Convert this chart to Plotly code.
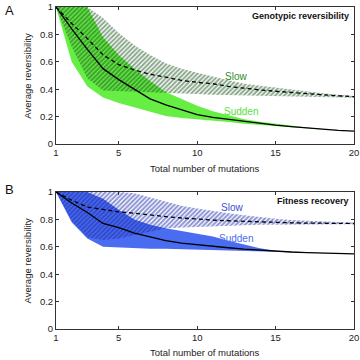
import plotly.graph_objects as go

x = list(range(1, 21))

# Panel A: Genotypic reversibility
a_sudden_mean = [1.0, 0.84, 0.69, 0.55, 0.47, 0.40, 0.33, 0.285, 0.25, 0.215, 0.195, 0.18, 0.163, 0.15, 0.138, 0.127, 0.117, 0.108, 0.10, 0.094]
a_sudden_up   = [1.0, 1.0, 1.0, 0.78, 0.65, 0.55, 0.46, 0.38, 0.33, 0.28, 0.24, 0.21, 0.18, 0.163, 0.148, 0.132, 0.12, 0.11, 0.10, 0.094]
a_sudden_lo   = [1.0, 0.60, 0.42, 0.34, 0.30, 0.265, 0.235, 0.205, 0.19, 0.178, 0.17, 0.16, 0.148, 0.138, 0.13, 0.122, 0.114, 0.106, 0.10, 0.094]
a_slow_mean   = [1.0, 0.88, 0.77, 0.65, 0.58, 0.54, 0.51, 0.485, 0.465, 0.45, 0.44, 0.42, 0.405, 0.395, 0.385, 0.375, 0.368, 0.36, 0.352, 0.345]
a_slow_up     = [1.0, 1.0, 1.0, 0.92, 0.81, 0.72, 0.65, 0.59, 0.55, 0.52, 0.49, 0.465, 0.44, 0.425, 0.41, 0.395, 0.385, 0.37, 0.36, 0.35]
a_slow_lo     = [1.0, 0.71, 0.48, 0.39, 0.385, 0.38, 0.38, 0.375, 0.37, 0.365, 0.36, 0.357, 0.355, 0.352, 0.35, 0.347, 0.345, 0.342, 0.34, 0.338]

# Panel B: Fitness recovery
b_sudden_mean = [1.0, 0.92, 0.85, 0.77, 0.74, 0.70, 0.672, 0.645, 0.627, 0.614, 0.603, 0.593, 0.583, 0.575, 0.567, 0.562, 0.558, 0.555, 0.552, 0.549]
b_sudden_up   = [1.0, 1.0, 1.0, 0.95, 0.87, 0.80, 0.76, 0.735, 0.715, 0.695, 0.675, 0.645, 0.615, 0.59, 0.572, 0.563, 0.558, 0.555, 0.552, 0.549]
b_sudden_lo   = [1.0, 0.78, 0.66, 0.60, 0.595, 0.59, 0.585, 0.585, 0.585, 0.58, 0.578, 0.575, 0.57, 0.567, 0.563, 0.56, 0.557, 0.554, 0.551, 0.548]
b_slow_mean   = [1.0, 0.94, 0.89, 0.87, 0.855, 0.845, 0.83, 0.82, 0.81, 0.80, 0.795, 0.79, 0.785, 0.78, 0.778, 0.775, 0.773, 0.771, 0.77, 0.77]
b_slow_up     = [1.0, 1.0, 1.0, 1.0, 1.0, 0.99, 0.96, 0.93, 0.90, 0.88, 0.86, 0.845, 0.83, 0.815, 0.805, 0.795, 0.79, 0.785, 0.78, 0.775]
b_slow_lo     = [1.0, 0.79, 0.67, 0.65, 0.66, 0.685, 0.71, 0.735, 0.74, 0.745, 0.75, 0.755, 0.758, 0.76, 0.762, 0.763, 0.764, 0.765, 0.765, 0.765]

xticks = [1, 5, 10, 15, 20]
yticks = [0, 0.2, 0.4, 0.6, 0.8, 1]

FONT = "Arial, Liberation Sans, sans-serif"

fig = go.Figure()


def band(lo, up, xa, ya, fill=None, pattern=None):
    xs = x + x[::-1]
    ys = up + lo[::-1]
    kw = dict(x=xs, y=ys, mode="lines", line=dict(width=0, color="rgba(0,0,0,0)"),
              fill="toself", xaxis=xa, yaxis=ya, hoverinfo="skip", showlegend=False)
    if pattern:
        kw["fillcolor"] = "rgba(0,0,0,0)"
        kw["fillpattern"] = dict(shape="/", fgcolor=pattern, bgcolor="rgba(0,0,0,0)", size=3.2, solidity=0.6)
    else:
        kw["fillcolor"] = fill
    fig.add_trace(go.Scatter(**kw))


def line(y, xa, ya, dash):
    fig.add_trace(go.Scatter(x=x, y=y, mode="lines", line=dict(color="black", width=1.3, dash=dash),
                             xaxis=xa, yaxis=ya, showlegend=False, hoverinfo="skip"))


GREEN = "#66ee44"
DGREEN = "#124f16"
BLUE = "#4a6cf0"
DBLUE = "#1424a8"

band(a_sudden_lo, a_sudden_up, "x", "y", fill=GREEN)
band(a_slow_lo, a_slow_up, "x", "y", pattern=DGREEN)
line(a_sudden_mean, "x", "y", "solid")
line(a_slow_mean, "x", "y", "4px,3px")

band(b_sudden_lo, b_sudden_up, "x2", "y2", fill=BLUE)
band(b_slow_lo, b_slow_up, "x2", "y2", pattern=DBLUE)
line(b_sudden_mean, "x2", "y2", "solid")
line(b_slow_mean, "x2", "y2", "4px,3px")

axis_common = dict(showline=True, linecolor="#333", linewidth=1, mirror="ticks", ticks="inside",
                   ticklen=3, tickcolor="#333", showgrid=False, zeroline=False, automargin=False,
                   ticklabeloverflow="allow",
                   tickfont=dict(family=FONT, size=9.5, color="#222"))

xt = dict(range=[1, 20], tickvals=xticks, **axis_common)
yt = dict(range=[0, 1], tickvals=yticks, ticktext=[str(v) if v not in (0, 1) else str(int(v)) for v in yticks],
          **axis_common)

fig.update_layout(
    width=360, height=360,
    margin=dict(l=56, r=6, t=7, b=31),
    plot_bgcolor="white", paper_bgcolor="white",
    xaxis=dict(domain=[0, 1], anchor="y", **xt),
    yaxis=dict(domain=[0.5745, 1], anchor="x", **yt),
    xaxis2=dict(domain=[0, 1], anchor="y2", **xt),
    yaxis2=dict(domain=[0, 0.4255], anchor="x2", **yt),
    font=dict(family=FONT),
)

TXT = "#222"
C = dict(xanchor="center", yanchor="middle")
ann = [
    dict(text="A", x=-0.178, y=1.02, xref="paper", yref="paper", font=dict(size=13, color="#111"), xanchor="left", yanchor="top"),
    dict(text="B", x=-0.178, y=0.462, xref="paper", yref="paper", font=dict(size=13, color="#111"), xanchor="left", yanchor="top"),
    dict(text="Total number of mutations", x=0.5, y=0.5, xref="paper", yref="paper", font=dict(size=9.5, color=TXT), **C),
    dict(text="Total number of mutations", x=0.5, y=-0.0745, xref="paper", yref="paper", font=dict(size=9.5, color=TXT), **C),
    dict(text="Average reversibility", x=-0.097, y=0.787, xref="paper", yref="paper", textangle=-90, font=dict(size=9.5, color=TXT), **C),
    dict(text="Average reversibility", x=-0.097, y=0.213, xref="paper", yref="paper", textangle=-90, font=dict(size=9.5, color=TXT), **C),
    dict(text="<b>Genotypic reversibility</b>", x=19.8, y=0.985, xref="x", yref="y", xanchor="right", yanchor="top",
         font=dict(size=9, color="#111")),
    dict(text="<b>Fitness recovery</b>", x=19.8, y=0.985, xref="x2", yref="y2", xanchor="right", yanchor="top",
         font=dict(size=9, color="#111")),
    dict(text="Slow", x=12.5, y=0.495, xref="x", yref="y", font=dict(size=10, color="#2e8b2e"), **C),
    dict(text="Sudden", x=12.8, y=0.24, xref="x", yref="y", font=dict(size=10, color="#55e03a"), **C),
    dict(text="Slow", x=12.2, y=0.89, xref="x2", yref="y2", font=dict(size=10, color="#3a4fd8"), **C),
    dict(text="Sudden", x=12.5, y=0.66, xref="x2", yref="y2", font=dict(size=10, color="#4a6cf0"), **C),
]
for a in ann:
    a.setdefault("showarrow", False)
    a["font"]["family"] = FONT
fig.update_layout(annotations=ann)

fig.write_html("out.html", config={"displayModeBar": False, "staticPlot": True},
               post_script="document.body.style.margin='0';document.body.style.overflow='hidden';")
